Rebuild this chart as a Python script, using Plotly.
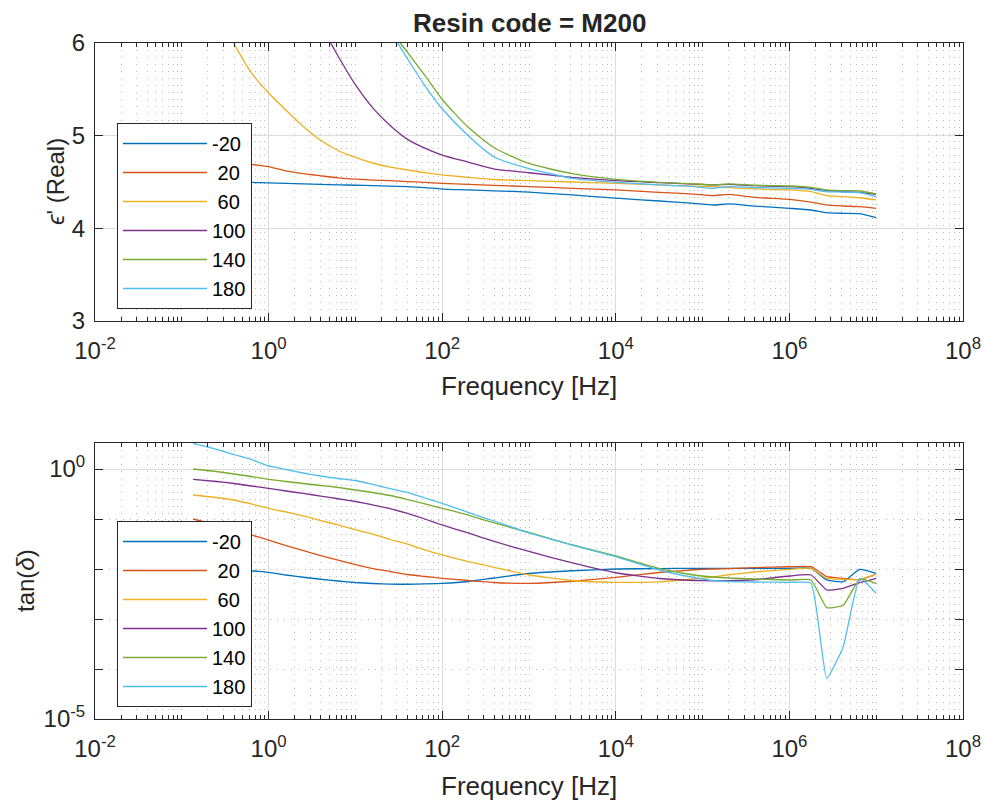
import plotly.graph_objects as go

# ---------------- data ----------------
freq_hz = [0.135, 0.251, 0.398, 0.631, 1.0, 1.585, 2.512, 3.981, 6.31, 10.0,
           15.85, 25.12, 39.81, 63.1, 100.0, 199.5, 398.1, 1000.0, 3162.0, 1.0e4,
           3.162e4, 7.943e4, 1.318e5, 1.995e5, 3.981e5, 1.0e6, 1.778e6, 2.692e6,
           4.169e6, 6.457e6, 1.0e7]

legend_labels = ["-20", "\u00a020", "\u00a060", "100", "140", "180"]
colors = ["#0072BD", "#D95319", "#EDB120", "#7E2F8E", "#77AC30", "#4DBEEE"]

eps_m20 = [4.52, 4.51, 4.50, 4.495, 4.49, 4.485, 4.48, 4.475, 4.47, 4.465, 4.46, 4.455,
           4.45, 4.44, 4.424, 4.415, 4.405, 4.39, 4.36, 4.325, 4.295, 4.27, 4.252, 4.263,
           4.24, 4.216, 4.198, 4.169, 4.162, 4.158, 4.115]
eps_20 = [4.84, 4.76, 4.72, 4.69, 4.665, 4.62, 4.59, 4.567, 4.545, 4.53, 4.52, 4.514,
          4.505, 4.497, 4.486, 4.475, 4.464, 4.45, 4.432, 4.414, 4.389, 4.37, 4.353, 4.367,
          4.335, 4.313, 4.284, 4.252, 4.241, 4.234, 4.216]
eps_60 = [7.4, 6.5, 6.0, 5.68, 5.46, 5.275, 5.10, 4.95, 4.84, 4.765, 4.705, 4.66,
          4.63, 4.60, 4.576, 4.55, 4.527, 4.515, 4.50, 4.486, 4.468, 4.455, 4.45, 4.44,
          4.425, 4.414, 4.395, 4.353, 4.342, 4.33, 4.306]
eps_100 = [12.0, 10.6, 9.6, 8.7, 7.9, 7.2, 6.65, 6.2, 5.86, 5.55, 5.30, 5.11,
           4.96, 4.865, 4.79, 4.715, 4.64, 4.60, 4.55, 4.514, 4.493, 4.478, 4.468, 4.475,
           4.46, 4.45, 4.432, 4.407, 4.395, 4.389, 4.367]
eps_140 = [13.8, 12.6, 11.7, 10.9, 10.1, 9.4, 8.7, 8.1, 7.5, 7.0, 6.55, 6.15,
           5.90, 5.65, 5.39, 5.09, 4.87, 4.70, 4.59, 4.529, 4.497, 4.48, 4.468, 4.479,
           4.465, 4.457, 4.443, 4.414, 4.407, 4.403, 4.371]
eps_180 = [17.5, 15.6, 14.2, 12.9, 11.7, 10.6, 9.6, 8.7, 7.9, 7.2, 6.6, 6.14,
           5.83, 5.54, 5.29, 5.00, 4.77, 4.645, 4.54, 4.497, 4.468, 4.45, 4.432, 4.45,
           4.44, 4.432, 4.421, 4.395, 4.392, 4.385, 4.342]

tan_m20 = [0.0126, 0.0112, 0.0102, 0.00923, 0.00857, 0.00759, 0.00684, 0.00624, 0.00575,
           0.00537, 0.00513, 0.00498, 0.00495, 0.00504, 0.00516, 0.00562, 0.00661, 0.00813,
           0.00923, 0.0100, 0.0102, 0.0103, 0.0103, 0.0103, 0.0103, 0.0103, 0.0103,
           0.00603, 0.00558, 0.00984, 0.00818]
tan_20 = [0.100, 0.0759, 0.0603, 0.0479, 0.0380, 0.0295, 0.0234, 0.0186, 0.0151, 0.0122,
          0.0102, 0.00891, 0.00776, 0.00708, 0.00650, 0.00589, 0.00537, 0.00516, 0.00569,
          0.00681, 0.00851, 0.00966, 0.0100, 0.0102, 0.0107, 0.0111, 0.0111, 0.00703,
          0.00650, 0.00603, 0.00794]
tan_60 = [0.302, 0.269, 0.240, 0.200, 0.163, 0.138, 0.115, 0.0933, 0.0759, 0.0610,
          0.0501, 0.0389, 0.0316, 0.0240, 0.0191, 0.0141, 0.0108, 0.00759, 0.00589,
          0.00541, 0.00552, 0.00631, 0.00692, 0.00767, 0.00871, 0.00984, 0.0103, 0.00650,
          0.00621, 0.00621, 0.00794]
tan_100 = [0.621, 0.562, 0.513, 0.457, 0.410, 0.363, 0.324, 0.288, 0.254, 0.224, 0.191,
           0.162, 0.129, 0.100, 0.0759, 0.0525, 0.0355, 0.0224, 0.0132, 0.00841, 0.00646,
           0.00589, 0.00582, 0.00585, 0.00610, 0.00724, 0.00759, 0.00380, 0.00410,
           0.00533, 0.00650]
tan_140 = [1.0, 0.891, 0.794, 0.708, 0.621, 0.562, 0.513, 0.468, 0.427, 0.380, 0.339,
           0.295, 0.245, 0.200, 0.163, 0.120, 0.0832, 0.0537, 0.0302, 0.0182, 0.0102,
           0.00759, 0.00692, 0.00661, 0.00631, 0.00603, 0.00603, 0.00169, 0.00188,
           0.00621, 0.00516]
tan_180 = [3.26, 2.48, 1.95, 1.55, 1.15, 0.977, 0.832, 0.724, 0.646, 0.589, 0.490,
           0.407, 0.339, 0.263, 0.206, 0.135, 0.0912, 0.0525, 0.0302, 0.0176, 0.00955,
           0.00676, 0.00589, 0.00562, 0.00550, 0.00541, 0.00516, 0.0000650, 0.000280,
           0.00650, 0.00326]

x_tick_vals = [1e-2, 1e0, 1e2, 1e4, 1e6, 1e8]
x_tick_text = ["10<sup>-2</sup>", "10<sup>0</sup>", "10<sup>2</sup>", "10<sup>4</sup>",
               "10<sup>6</sup>", "10<sup>8</sup>"]
y1_tick_vals = [3, 4, 5, 6]
y2_tick_vals = [1e-5, 1e0]
y2_tick_text = ["10<sup>-5</sup>", "10<sup>0</sup>"]
y2_minor_vals = [1e-4, 1e-3, 1e-2, 1e-1]

eps_series = [eps_m20, eps_20, eps_60, eps_100, eps_140, eps_180]
tan_series = [tan_m20, tan_20, tan_60, tan_100, tan_140, tan_180]

# ---------------- figure ----------------
W, H = 986, 805
FONT = "Liberation Sans, Arial, Helvetica, sans-serif"
AX = "#262626"

x_minor = [m * 10.0 ** e for e in range(-2, 8) for m in range(1, 10)
           if (m * 10.0 ** e) not in x_tick_vals]

fig = go.Figure()
for lab, col, ys in zip(legend_labels, colors, eps_series):
    fig.add_trace(go.Scatter(x=freq_hz, y=ys, mode="lines", name=lab,
                             line=dict(color=col, width=1.3, shape="spline", smoothing=0.6),
                             xaxis="x", yaxis="y", legend="legend"))
for lab, col, ys in zip(legend_labels, colors, tan_series):
    fig.add_trace(go.Scatter(x=freq_hz, y=ys, mode="lines", name=lab,
                             line=dict(color=col, width=1.3, shape="spline", smoothing=0.4),
                             xaxis="x2", yaxis="y2", legend="legend2"))

xdom = [95 / W, 963 / W]
y1dom = [1 - 321 / H, 1 - 43 / H]
y2dom = [1 - 719 / H, 1 - 443 / H]

common_axis = dict(showline=True, linecolor=AX, linewidth=1, mirror="ticks",
                   ticks="inside", tickcolor=AX, tickwidth=1, automargin=False,
                   showgrid=True, gridcolor="#dcdcdc", gridwidth=1.2,
                   zeroline=False, tickfont=dict(family=FONT, size=24, color=AX))

minor_x = dict(tickmode="array", tickvals=x_minor, ticks="inside", ticklen=4,
               tickcolor=AX, showgrid=True, gridcolor="#b8b8b8",
               griddash="1px,6px", gridwidth=1)

legend_common = dict(xanchor="left", yanchor="top", bordercolor=AX, borderwidth=1,
                     bgcolor="white", font=dict(family=FONT, size=20, color="black"),
                     itemwidth=84, tracegroupgap=0)

fig.update_layout(
    template="none",
    width=W, height=H,
    margin=dict(l=0, r=0, t=0, b=0, pad=0),
    paper_bgcolor="white", plot_bgcolor="white",
    font=dict(family=FONT, color=AX),
    xaxis=dict(domain=xdom, anchor="y", type="log", range=[-2, 8],
               tickmode="array", tickvals=x_tick_vals, ticktext=x_tick_text,
               ticklen=8, minor=minor_x, ticklabelstandoff=8, **common_axis),
    yaxis=dict(domain=y1dom, anchor="x", range=[3, 6], tickmode="array",
               tickvals=y1_tick_vals, ticklen=8, ticklabelstandoff=4, **common_axis),
    xaxis2=dict(domain=xdom, anchor="y2", type="log", range=[-2, 8],
                tickmode="array", tickvals=x_tick_vals, ticktext=x_tick_text,
                ticklen=8, minor=minor_x, ticklabelstandoff=8, **common_axis),
    yaxis2=dict(domain=y2dom, anchor="x2", type="log", range=[-5, 0.52],
                tickmode="array", tickvals=y2_tick_vals, ticktext=y2_tick_text,
                ticklen=8, ticklabelstandoff=4,
                minor=dict(tickmode="array", tickvals=y2_minor_vals, ticks="inside",
                           ticklen=8, tickcolor=AX, showgrid=True, gridcolor="#b8b8b8",
                           griddash="1px,6px", gridwidth=1),
                **common_axis),
    legend=dict(x=117 / W, y=1 - 123 / H, **legend_common),
    legend2=dict(x=117 / W, y=1 - 521 / H, **legend_common),
    showlegend=True,
)

annots = [
    dict(text="<b>Resin code = M200</b>", x=529 / W, y=1 - 23 / H, size=26, angle=0),
    dict(text="Frequency [Hz]", x=529 / W, y=1 - 386 / H, size=26, angle=0),
    dict(text="Frequency [Hz]", x=529 / W, y=1 - 786 / H, size=26, angle=0),
    dict(text="<i>\u03f5</i>' (Real)", x=55 / W, y=1 - 182 / H, size=24, angle=-90),
    dict(text="tan(<i>\u03b4</i>)", x=25 / W, y=1 - 581 / H, size=24, angle=-90),
]
for a in annots:
    fig.add_annotation(text=a["text"], x=a["x"], y=a["y"], xref="paper", yref="paper",
                       xanchor="center", yanchor="middle", showarrow=False,
                       textangle=a["angle"],
                       font=dict(family=FONT, size=a["size"], color=AX))

fig.write_html("out.html")
